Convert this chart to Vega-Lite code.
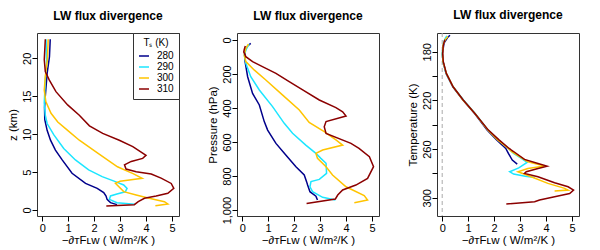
{
  "$schema": "https://vega.github.io/schema/vega-lite/v6.json",
  "background": "white",
  "padding": {"left": 6, "top": 8, "right": 0, "bottom": 0},
  "spacing": 58,
  "bounds": "flush",
  "datasets": {
    "height": [
      {"Ts":280,"x":2.88,"z":0.71},{"Ts":280,"x":2.63,"z":0.97},{"Ts":280,"x":2.5,"z":1.4},{"Ts":280,"x":2.46,"z":1.85},{"Ts":280,"x":2.37,"z":2.29},{"Ts":280,"x":2.12,"z":2.86},{"Ts":280,"x":1.67,"z":3.5},{"Ts":280,"x":1.15,"z":4.84},{"Ts":280,"x":0.77,"z":6.6},{"Ts":280,"x":0.51,"z":7.9},{"Ts":280,"x":0.32,"z":9.2},{"Ts":280,"x":0.19,"z":10.5},{"Ts":280,"x":0.1,"z":11.9},{"Ts":280,"x":0.09,"z":13.5},{"Ts":280,"x":0.12,"z":15},{"Ts":280,"x":0.19,"z":18},{"Ts":280,"x":0.28,"z":20.2},{"Ts":280,"x":0.31,"z":22.5},
      {"Ts":290,"x":3.57,"z":0.75},{"Ts":290,"x":2.88,"z":0.97},{"Ts":290,"x":2.59,"z":1.4},{"Ts":290,"x":2.63,"z":1.85},{"Ts":290,"x":2.88,"z":2.1},{"Ts":290,"x":3.2,"z":2.4},{"Ts":290,"x":3.27,"z":2.85},{"Ts":290,"x":3.14,"z":3.3},{"Ts":290,"x":2.82,"z":3.74},{"Ts":290,"x":2.31,"z":4.4},{"Ts":290,"x":1.79,"z":5.3},{"Ts":290,"x":1.28,"z":6.6},{"Ts":290,"x":0.83,"z":8.1},{"Ts":290,"x":0.45,"z":9.9},{"Ts":290,"x":0.19,"z":11.4},{"Ts":290,"x":0.12,"z":12.5},{"Ts":290,"x":0.08,"z":14.1},{"Ts":290,"x":0.12,"z":17.15},{"Ts":290,"x":0.17,"z":19.3},{"Ts":290,"x":0.15,"z":22.5},
      {"Ts":300,"x":4.36,"z":0.57},{"Ts":300,"x":4.84,"z":0.79},{"Ts":300,"x":4.71,"z":1.1},{"Ts":300,"x":4.12,"z":1.54},{"Ts":300,"x":3.62,"z":1.98},{"Ts":300,"x":3.14,"z":2.42},{"Ts":300,"x":2.82,"z":3.52},{"Ts":300,"x":3.0,"z":3.78},{"Ts":300,"x":3.85,"z":4.18},{"Ts":300,"x":3.5,"z":4.8},{"Ts":300,"x":3.3,"z":5.1},{"Ts":300,"x":2.9,"z":5.7},{"Ts":300,"x":2.14,"z":7.5},{"Ts":300,"x":1.43,"z":9.2},{"Ts":300,"x":0.98,"z":10.5},{"Ts":300,"x":0.6,"z":11.6},{"Ts":300,"x":0.34,"z":12.75},{"Ts":300,"x":0.14,"z":14.3},{"Ts":300,"x":0.08,"z":15.8},{"Ts":300,"x":0.12,"z":17.6},{"Ts":300,"x":0.2,"z":19.8},{"Ts":300,"x":0.23,"z":22.5},
      {"Ts":310,"x":2.47,"z":0.53},{"Ts":310,"x":3.55,"z":0.7},{"Ts":310,"x":3.7,"z":1.1},{"Ts":310,"x":3.94,"z":1.54},{"Ts":310,"x":4.39,"z":1.85},{"Ts":310,"x":4.84,"z":2.2},{"Ts":310,"x":5.07,"z":2.86},{"Ts":310,"x":4.97,"z":3.5},{"Ts":310,"x":4.58,"z":4.2},{"Ts":310,"x":4.2,"z":4.75},{"Ts":310,"x":3.62,"z":5.05},{"Ts":310,"x":3.23,"z":5.4},{"Ts":310,"x":3.17,"z":5.95},{"Ts":310,"x":3.43,"z":6.4},{"Ts":310,"x":3.87,"z":6.8},{"Ts":310,"x":4.0,"z":7.2},{"Ts":310,"x":3.87,"z":7.5},{"Ts":310,"x":3.49,"z":8.35},{"Ts":310,"x":2.97,"z":9.2},{"Ts":310,"x":2.33,"z":10.1},{"Ts":310,"x":1.82,"z":11.1},{"Ts":310,"x":1.43,"z":12.5},{"Ts":310,"x":0.98,"z":13.85},{"Ts":310,"x":0.53,"z":15.6},{"Ts":310,"x":0.27,"z":17.15},{"Ts":310,"x":0.12,"z":18.25},{"Ts":310,"x":0.08,"z":19.8},{"Ts":310,"x":0.12,"z":22.5}
    ],
    "pressure": [
      {"Ts":280,"x":2.9,"p":941},{"Ts":280,"x":2.84,"p":918},{"Ts":280,"x":2.61,"p":892},{"Ts":280,"x":2.52,"p":853},{"Ts":280,"x":2.48,"p":833},{"Ts":280,"x":2.39,"p":794},{"Ts":280,"x":2.07,"p":745},{"Ts":280,"x":1.68,"p":676},{"Ts":280,"x":1.3,"p":608},{"Ts":280,"x":0.98,"p":530},{"Ts":280,"x":0.85,"p":480},{"Ts":280,"x":0.66,"p":382},{"Ts":280,"x":0.4,"p":314},{"Ts":280,"x":0.21,"p":216},{"Ts":280,"x":0.1,"p":118},{"Ts":280,"x":0.12,"p":59},{"Ts":280,"x":0.21,"p":35},{"Ts":280,"x":0.33,"p":20},
      {"Ts":290,"x":3.59,"p":941},{"Ts":290,"x":3.1,"p":925},{"Ts":290,"x":2.71,"p":892},{"Ts":290,"x":2.61,"p":863},{"Ts":290,"x":2.65,"p":833},{"Ts":290,"x":2.97,"p":820},{"Ts":290,"x":3.25,"p":784},{"Ts":290,"x":3.23,"p":725},{"Ts":290,"x":3.03,"p":696},{"Ts":290,"x":2.84,"p":667},{"Ts":290,"x":2.45,"p":618},{"Ts":290,"x":1.94,"p":549},{"Ts":290,"x":1.62,"p":490},{"Ts":290,"x":1.17,"p":392},{"Ts":290,"x":0.66,"p":294},{"Ts":290,"x":0.33,"p":216},{"Ts":290,"x":0.14,"p":137},{"Ts":290,"x":0.08,"p":88},{"Ts":290,"x":0.17,"p":49},{"Ts":290,"x":0.27,"p":24},
      {"Ts":300,"x":4.32,"p":957},{"Ts":300,"x":4.83,"p":941},{"Ts":300,"x":4.7,"p":915},{"Ts":300,"x":4.0,"p":863},{"Ts":300,"x":3.48,"p":794},{"Ts":300,"x":3.23,"p":745},{"Ts":300,"x":2.9,"p":696},{"Ts":300,"x":2.84,"p":667},{"Ts":300,"x":3.1,"p":647},{"Ts":300,"x":3.87,"p":618},{"Ts":300,"x":3.61,"p":588},{"Ts":300,"x":3.16,"p":539},{"Ts":300,"x":2.58,"p":485},{"Ts":300,"x":2.2,"p":412},{"Ts":300,"x":1.56,"p":324},{"Ts":300,"x":0.91,"p":235},{"Ts":300,"x":0.46,"p":176},{"Ts":300,"x":0.14,"p":127},{"Ts":300,"x":0.08,"p":88},{"Ts":300,"x":0.14,"p":49},{"Ts":300,"x":0.24,"p":24},
      {"Ts":310,"x":2.48,"p":961},{"Ts":310,"x":3.59,"p":935},{"Ts":310,"x":3.68,"p":912},{"Ts":310,"x":3.87,"p":882},{"Ts":310,"x":4.38,"p":853},{"Ts":310,"x":4.83,"p":814},{"Ts":310,"x":5.06,"p":745},{"Ts":310,"x":4.9,"p":686},{"Ts":310,"x":4.5,"p":637},{"Ts":310,"x":4.19,"p":608},{"Ts":310,"x":3.23,"p":549},{"Ts":310,"x":3.16,"p":510},{"Ts":310,"x":3.23,"p":480},{"Ts":310,"x":4.0,"p":447},{"Ts":310,"x":3.87,"p":422},{"Ts":310,"x":3.61,"p":398},{"Ts":310,"x":2.97,"p":353},{"Ts":310,"x":2.33,"p":294},{"Ts":310,"x":1.81,"p":245},{"Ts":310,"x":1.3,"p":196},{"Ts":310,"x":0.78,"p":157},{"Ts":310,"x":0.4,"p":127},{"Ts":310,"x":0.14,"p":98},{"Ts":310,"x":0.06,"p":70},{"Ts":310,"x":0.08,"p":55},{"Ts":310,"x":0.12,"p":35}
    ],
    "temperature": [
      {"Ts":280,"x":0.3,"T":166.5},{"Ts":280,"x":0.2,"T":168.5},{"Ts":280,"x":0.07,"T":173},{"Ts":280,"x":0.01,"T":181.4},{"Ts":280,"x":0.03,"T":188},{"Ts":280,"x":0.15,"T":197.8},{"Ts":280,"x":0.41,"T":208.8},{"Ts":280,"x":0.8,"T":219.7},{"Ts":280,"x":1.25,"T":230.7},{"Ts":280,"x":1.73,"T":244.4},{"Ts":280,"x":2.1,"T":252.6},{"Ts":280,"x":2.45,"T":259.5},{"Ts":280,"x":2.55,"T":263.6},{"Ts":280,"x":2.7,"T":269},{"Ts":280,"x":2.89,"T":272.3},
      {"Ts":290,"x":0.18,"T":167},{"Ts":290,"x":0.12,"T":169},{"Ts":290,"x":0.05,"T":173},{"Ts":290,"x":0.0,"T":181.4},{"Ts":290,"x":0.03,"T":188},{"Ts":290,"x":0.15,"T":197.8},{"Ts":290,"x":0.42,"T":208.8},{"Ts":290,"x":0.82,"T":219.7},{"Ts":290,"x":1.27,"T":230.7},{"Ts":290,"x":1.77,"T":244.4},{"Ts":290,"x":2.17,"T":252.6},{"Ts":290,"x":2.55,"T":259.5},{"Ts":290,"x":2.75,"T":263.5},{"Ts":290,"x":3.05,"T":267.7},{"Ts":290,"x":3.27,"T":271},{"Ts":290,"x":2.95,"T":275.5},{"Ts":290,"x":2.6,"T":278.6},{"Ts":290,"x":2.75,"T":280.5},{"Ts":290,"x":3.2,"T":282.3},{"Ts":290,"x":3.57,"T":283.3},
      {"Ts":300,"x":0.22,"T":167.5},{"Ts":300,"x":0.12,"T":170},{"Ts":300,"x":0.04,"T":174},{"Ts":300,"x":0.01,"T":181.4},{"Ts":300,"x":0.03,"T":188},{"Ts":300,"x":0.16,"T":197.8},{"Ts":300,"x":0.42,"T":208.8},{"Ts":300,"x":0.8,"T":219.7},{"Ts":300,"x":1.26,"T":230.7},{"Ts":300,"x":1.76,"T":244.4},{"Ts":300,"x":2.15,"T":252.6},{"Ts":300,"x":2.55,"T":259.5},{"Ts":300,"x":2.68,"T":262.2},{"Ts":300,"x":3.3,"T":270.4},{"Ts":300,"x":3.95,"T":274},{"Ts":300,"x":3.3,"T":276},{"Ts":300,"x":2.92,"T":278.6},{"Ts":300,"x":3.43,"T":282.8},{"Ts":300,"x":4.07,"T":288.2},{"Ts":300,"x":4.72,"T":292.3},{"Ts":300,"x":4.85,"T":293.7},{"Ts":300,"x":4.33,"T":294.5},
      {"Ts":310,"x":0.1,"T":170},{"Ts":310,"x":0.04,"T":175},{"Ts":310,"x":0.02,"T":181.4},{"Ts":310,"x":0.04,"T":188},{"Ts":310,"x":0.16,"T":197.8},{"Ts":310,"x":0.42,"T":208.8},{"Ts":310,"x":0.81,"T":219.7},{"Ts":310,"x":1.26,"T":230.7},{"Ts":310,"x":1.78,"T":244.4},{"Ts":310,"x":2.2,"T":252.6},{"Ts":310,"x":2.58,"T":259.5},{"Ts":310,"x":2.75,"T":262},{"Ts":310,"x":3.17,"T":268.5},{"Ts":310,"x":3.69,"T":271.8},{"Ts":310,"x":4.04,"T":274},{"Ts":310,"x":3.69,"T":275.9},{"Ts":310,"x":3.24,"T":278.6},{"Ts":310,"x":3.17,"T":280},{"Ts":310,"x":3.69,"T":282.7},{"Ts":310,"x":4.33,"T":287.7},{"Ts":310,"x":4.85,"T":291},{"Ts":310,"x":5.06,"T":293.7},{"Ts":310,"x":4.91,"T":296.5},{"Ts":310,"x":4.33,"T":299.2},{"Ts":310,"x":3.75,"T":301.9},{"Ts":310,"x":3.56,"T":303.3},{"Ts":310,"x":2.47,"T":305.2}
    ]
  },
  "hconcat": [
    {
      "width": 142, "height": 183,
      "title": "LW flux divergence",
      "data": {"name": "height"},
      "mark": {"type": "line", "strokeWidth": 1.5},
      "encoding": {
        "x": {"field": "x", "type": "quantitative", "scale": {"domain": [-0.2, 5.27], "nice": false, "zero": false}, "axis": {"values": [0,1,2,3,4,5], "title": "−∂ᴛFʟᴡ ( W/m²/K )"}},
        "y": {"field": "z", "type": "quantitative", "scale": {"domain": [-0.79, 23.33], "nice": false, "zero": false}, "axis": {"values": [0,5,10,15,20], "title": "z (km)"}},
        "color": {"field": "Ts", "type": "nominal", "scale": {"domain": [280,290,300,310], "range": ["#00008B","#1CE6FF","#FFC400","#8B0000"]},
          "legend": {"orient": "top-right", "offset": 0, "title": "Tₛ (K)", "strokeColor": "#333", "fillColor": "white", "padding": 5, "symbolType": "stroke", "symbolSize": 100, "symbolStrokeWidth": 1.5, "labelFontSize": 10, "labelFont": "Liberation Sans", "titleFont": "Liberation Sans", "titleFontSize": 10, "titleFontWeight": "normal", "titleAnchor": "middle", "titlePadding": 2, "labelOffset": 7, "rowPadding": 0}},
        "order": {"field": "z", "type": "quantitative"}
      }
    },
    {
      "width": 142, "height": 183,
      "title": "LW flux divergence",
      "data": {"name": "pressure"},
      "mark": {"type": "line", "strokeWidth": 1.5},
      "encoding": {
        "x": {"field": "x", "type": "quantitative", "scale": {"domain": [-0.2, 5.27], "nice": false, "zero": false}, "axis": {"values": [0,1,2,3,4,5], "title": "−∂ᴛFʟᴡ ( W/m²/K )"}},
        "y": {"field": "p", "type": "quantitative", "scale": {"domain": [-41, 1035], "nice": false, "zero": false, "reverse": true}, "axis": {"values": [0,200,400,600,800,1000], "title": "Pressure (hPa)"}},
        "color": {"field": "Ts", "type": "nominal", "scale": {"domain": [280,290,300,310], "range": ["#00008B","#1CE6FF","#FFC400","#8B0000"]}, "legend": null},
        "order": {"field": "p", "type": "quantitative", "sort": "descending"}
      }
    },
    {
      "width": 142, "height": 183,
      "title": "LW flux divergence",
      "layer": [
        {
          "data": {"values": [{}]},
          "mark": {"type": "rule", "strokeDash": [4, 3], "color": "#aaaaaa", "strokeWidth": 1},
          "encoding": {"x": {"datum": 0, "type": "quantitative", "scale": {"domain": [-0.2, 5.27], "nice": false, "zero": false}, "axis": {"values": [0,1,2,3,4,5], "title": "−∂ᴛFʟᴡ ( W/m²/K )"}}}
        },
        {
          "data": {"name": "temperature"},
          "mark": {"type": "line", "strokeWidth": 1.5},
          "encoding": {
            "x": {"field": "x", "type": "quantitative", "scale": {"domain": [-0.2, 5.27], "nice": false, "zero": false}, "axis": {"values": [0,1,2,3,4,5], "title": "−∂ᴛFʟᴡ ( W/m²/K )"}},
            "y": {"field": "T", "type": "quantitative", "scale": {"domain": [164.6, 315], "nice": false, "zero": false, "reverse": true}, "axis": {"values": [180,200,220,240,260,280,300], "labelExpr": "datum.value % 40 == 20 ? datum.label : ''", "title": "Temperature (K)"}},
            "color": {"field": "Ts", "type": "nominal", "scale": {"domain": [280,290,300,310], "range": ["#00008B","#1CE6FF","#FFC400","#8B0000"]}, "legend": null},
            "order": {"field": "T", "type": "quantitative", "sort": "descending"}
          }
        }
      ]
    }
  ],
  "resolve": {"scale": {"color": "independent"}, "legend": {"color": "independent"}},
  "config": {
    "view": {"stroke": "#333333", "strokeWidth": 1},
    "title": {"font": "Liberation Sans", "fontSize": 12, "fontWeight": "bold", "offset": 10, "anchor": "middle", "color": "black"},
    "axis": {"domain": false, "grid": false, "tickColor": "black", "tickSize": 5, "labelFont": "Liberation Sans", "labelFontSize": 11, "labelColor": "black", "titleFont": "Liberation Sans", "titleFontSize": 11.5, "titleFontWeight": "normal", "titleColor": "black", "labelPadding": 1, "labelOverlap": false, "labelFlush": false},
    "axisX": {"titlePadding": 1},
    "axisY": {"labelAngle": -90, "labelAlign": "center", "labelBaseline": "alphabetic", "labelPadding": 2, "titlePadding": 3}
  }
}
